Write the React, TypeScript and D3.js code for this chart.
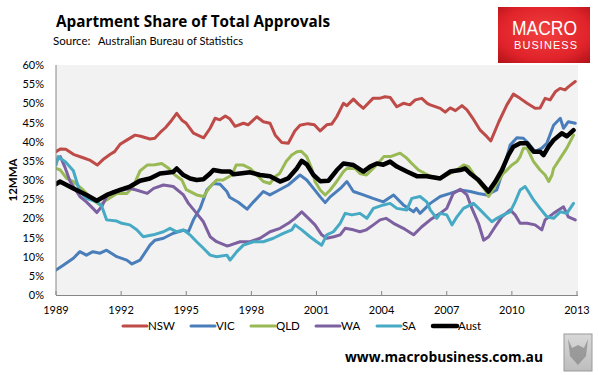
import React from "react";
import * as d3 from "d3";

type Pt = [number, number];

const seriesNames = ["NSW", "VIC", "QLD", "WA", "SA", "Aust"];
const seriesColors = ["#BE4B48", "#4A7EBB", "#98B954", "#7D60A0", "#46AAC5", "#000000"];
const seriesWidths = [3, 3, 3, 3, 3, 4.5];

const yTicks = [0, 5, 10, 15, 20, 25, 30, 35, 40, 45, 50, 55, 60];
const xTicks = [1989, 1992, 1995, 1998, 2001, 2004, 2007, 2010, 2013];

const nsw: Pt[] = [[1989.0,37.4],[1989.2,38.1],[1989.45,38.0],[1989.8,36.7],[1990.25,35.8],[1990.55,35.2],[1990.9,33.9],[1991.2,35.5],[1991.5,36.7],[1991.7,37.4],[1991.95,39.3],[1992.26,40.4],[1992.64,41.7],[1992.9,41.4],[1993.33,40.7],[1993.55,40.9],[1993.8,42.4],[1994.05,43.7],[1994.33,45.6],[1994.56,47.4],[1994.8,45.6],[1995.0,44.8],[1995.33,42.2],[1995.8,41.0],[1996.1,43.5],[1996.33,46.1],[1996.55,45.7],[1996.8,46.7],[1997.0,46.0],[1997.25,44.0],[1997.63,44.8],[1997.85,44.4],[1998.25,46.5],[1998.55,45.2],[1998.86,44.8],[1999.1,41.7],[1999.4,39.8],[1999.7,39.6],[2000.0,42.8],[2000.24,44.3],[2000.6,44.7],[2000.9,44.4],[2001.17,42.8],[2001.47,44.4],[2001.7,44.6],[2001.93,46.5],[2002.24,50.0],[2002.4,49.4],[2002.7,51.1],[2002.93,49.8],[2003.16,48.7],[2003.6,51.3],[2003.9,51.3],[2004.16,51.7],[2004.4,51.5],[2004.7,49.1],[2005.0,50.0],[2005.3,49.6],[2005.55,50.9],[2005.85,51.3],[2006.1,50.0],[2006.24,49.6],[2006.7,48.7],[2006.93,47.7],[2007.16,48.8],[2007.4,48.1],[2007.7,49.4],[2007.93,48.3],[2008.2,46.1],[2008.54,43.0],[2008.85,41.3],[2009.03,40.2],[2009.4,45.2],[2009.77,49.6],[2010.07,52.4],[2010.38,51.3],[2010.7,50.0],[2011.07,48.7],[2011.3,48.8],[2011.53,51.3],[2011.76,50.9],[2012.0,53.0],[2012.22,53.9],[2012.45,53.5],[2012.6,54.3],[2012.92,55.7]];

const vic: Pt[] = [[1989.0,6.5],[1989.35,7.8],[1989.8,9.6],[1990.1,11.3],[1990.4,10.4],[1990.7,11.3],[1991.03,10.9],[1991.33,11.7],[1991.8,10.0],[1992.26,9.1],[1992.5,8.1],[1992.87,9.1],[1993.33,13.0],[1993.56,14.3],[1993.95,14.8],[1994.4,16.1],[1994.87,16.9],[1995.1,16.5],[1995.33,19.6],[1995.64,22.6],[1995.95,27.4],[1996.25,29.1],[1996.56,28.9],[1996.87,27.0],[1997.0,25.5],[1997.4,24.2],[1997.8,22.4],[1998.1,24.3],[1998.55,27.0],[1998.85,26.1],[1999.15,27.0],[1999.7,28.7],[2000.24,31.3],[2000.55,30.0],[2000.86,27.8],[2001.17,25.6],[2001.4,24.1],[2001.63,25.6],[2002.1,27.8],[2002.4,29.6],[2002.7,27.0],[2003.16,26.1],[2003.6,25.2],[2004.08,24.3],[2004.55,26.1],[2005.0,23.5],[2005.47,21.7],[2005.6,22.6],[2005.77,21.3],[2006.24,23.9],[2006.7,25.7],[2007.16,26.5],[2007.62,27.4],[2008.08,27.0],[2008.46,26.5],[2008.85,26.1],[2009.3,27.4],[2009.6,32.6],[2009.92,39.1],[2010.23,41.0],[2010.53,40.9],[2010.76,39.6],[2011.07,37.4],[2011.38,38.3],[2011.61,39.6],[2011.92,44.3],[2012.23,46.1],[2012.38,43.5],[2012.6,45.2],[2012.92,44.8]];

const qld: Pt[] = [[1989.0,33.0],[1989.2,32.6],[1989.49,30.4],[1989.8,29.6],[1990.25,27.4],[1990.7,24.8],[1991.03,23.5],[1991.33,24.8],[1991.8,26.5],[1992.26,26.5],[1992.56,28.3],[1992.87,32.4],[1993.2,33.9],[1993.55,34.0],[1993.87,34.3],[1994.2,33.0],[1994.48,31.3],[1994.8,30.0],[1995.0,27.5],[1995.48,26.1],[1995.8,25.7],[1996.1,28.3],[1996.4,30.0],[1996.7,30.0],[1997.1,31.3],[1997.3,33.9],[1997.63,33.9],[1997.95,33.0],[1998.25,31.3],[1998.55,29.6],[1998.86,29.1],[1999.1,30.9],[1999.3,31.7],[1999.6,34.8],[1999.86,36.5],[2000.1,37.4],[2000.3,37.5],[2000.55,36.1],[2000.78,33.0],[2000.93,29.6],[2001.17,27.4],[2001.4,26.1],[2001.63,27.4],[2001.93,29.6],[2002.24,32.2],[2002.4,33.0],[2002.78,33.0],[2003.0,31.7],[2003.3,31.3],[2003.78,34.0],[2004.1,36.1],[2004.4,36.1],[2004.85,37.0],[2005.16,35.7],[2005.39,34.3],[2005.7,32.6],[2006.0,31.7],[2006.24,31.0],[2006.7,30.5],[2007.16,31.7],[2007.46,32.6],[2007.78,33.9],[2008.0,33.5],[2008.16,32.2],[2008.46,29.6],[2008.77,27.4],[2008.93,25.7],[2009.3,29.1],[2009.6,31.7],[2009.7,32.2],[2010.0,33.9],[2010.23,34.8],[2010.38,36.1],[2010.53,38.3],[2010.7,38.3],[2011.0,34.8],[2011.3,32.6],[2011.53,31.3],[2011.7,29.6],[2011.85,31.3],[2011.92,33.0],[2012.23,35.7],[2012.53,38.3],[2012.84,41.7]];

const wa: Pt[] = [[1989.0,34.8],[1989.2,36.1],[1989.4,33.5],[1989.65,29.6],[1989.95,27.0],[1990.1,25.7],[1990.4,24.3],[1990.7,22.6],[1990.88,21.5],[1991.1,23.0],[1991.33,25.7],[1991.64,27.0],[1992.1,27.4],[1992.4,27.8],[1992.7,27.4],[1993.2,26.5],[1993.5,27.8],[1993.95,28.7],[1994.4,28.3],[1994.87,26.1],[1995.1,23.9],[1995.48,21.3],[1995.79,19.1],[1996.1,15.2],[1996.4,13.9],[1996.87,12.8],[1997.02,13.0],[1997.48,13.9],[1997.94,13.9],[1998.4,14.8],[1998.86,16.5],[1999.32,17.4],[1999.7,18.7],[2000.0,20.0],[2000.32,21.7],[2000.63,20.0],[2000.93,18.3],[2001.24,15.7],[2001.47,14.8],[2001.8,15.2],[2002.09,15.7],[2002.32,17.4],[2002.7,17.0],[2003.0,16.5],[2003.3,17.0],[2003.62,18.3],[2003.93,19.6],[2004.2,20.0],[2004.55,18.7],[2005.0,17.4],[2005.47,15.7],[2005.85,17.8],[2006.24,19.6],[2006.7,21.3],[2007.0,22.6],[2007.3,26.5],[2007.62,27.6],[2007.93,26.1],[2008.16,22.6],[2008.46,18.7],[2008.7,14.3],[2008.93,15.2],[2009.23,17.8],[2009.54,20.4],[2009.92,22.2],[2010.15,20.9],[2010.38,18.7],[2010.7,18.7],[2011.07,18.3],[2011.38,17.0],[2011.53,19.6],[2011.92,21.3],[2012.38,23.0],[2012.6,20.4],[2012.92,19.6]];

const sa: Pt[] = [[1989.0,33.9],[1989.1,36.1],[1989.42,34.8],[1989.8,32.4],[1989.95,29.6],[1990.1,27.0],[1990.4,25.2],[1990.88,24.3],[1991.1,23.3],[1991.33,19.6],[1991.8,19.3],[1992.03,18.7],[1992.4,18.3],[1992.72,17.0],[1993.02,15.2],[1993.48,15.7],[1993.95,16.5],[1994.25,17.4],[1994.56,16.5],[1994.87,17.0],[1995.17,15.7],[1995.48,13.9],[1995.79,12.2],[1996.1,10.4],[1996.4,10.0],[1996.87,10.4],[1997.02,9.1],[1997.33,11.3],[1997.63,13.0],[1998.09,13.9],[1998.55,13.9],[1999.01,14.8],[1999.47,16.1],[1999.86,17.0],[2000.01,18.3],[2000.32,17.0],[2000.7,15.2],[2001.01,13.9],[2001.24,13.0],[2001.47,15.7],[2001.78,16.5],[2002.09,18.7],[2002.32,21.3],[2002.63,20.9],[2003.0,21.3],[2003.32,20.0],[2003.62,22.6],[2004.08,23.5],[2004.39,23.9],[2004.7,22.6],[2005.16,22.2],[2005.39,25.2],[2005.77,25.7],[2006.08,24.3],[2006.24,22.2],[2006.54,20.0],[2006.7,21.3],[2007.0,20.9],[2007.24,18.3],[2007.47,20.4],[2007.77,22.6],[2008.23,23.9],[2008.54,22.2],[2008.85,20.4],[2009.08,19.1],[2009.31,20.0],[2009.61,20.9],[2009.92,21.7],[2010.15,24.3],[2010.38,27.4],[2010.61,28.3],[2010.76,27.0],[2011.0,24.8],[2011.3,22.6],[2011.61,20.4],[2011.92,20.0],[2012.23,21.7],[2012.53,21.3],[2012.84,23.9]];

const aust: Pt[] = [[1989.0,28.9],[1989.18,29.6],[1989.8,27.8],[1990.41,26.1],[1990.88,24.6],[1991.34,26.1],[1991.95,27.4],[1992.41,28.3],[1992.87,29.8],[1993.33,30.4],[1993.79,31.7],[1994.4,32.1],[1994.56,33.0],[1994.87,31.3],[1995.18,30.4],[1995.48,30.0],[1995.79,30.2],[1996.1,31.7],[1996.25,32.6],[1996.64,32.2],[1997.02,32.2],[1997.17,31.5],[1997.48,31.7],[1997.94,32.0],[1998.4,31.3],[1998.86,31.0],[1999.32,29.6],[1999.69,30.4],[2000.09,33.0],[2000.32,35.0],[2000.55,34.1],[2000.86,31.3],[2001.17,29.7],[2001.55,29.8],[2001.94,32.6],[2002.24,34.3],[2002.7,33.9],[2003.16,32.2],[2003.47,33.5],[2003.78,34.3],[2004.08,34.0],[2004.39,34.8],[2004.7,33.5],[2005.16,32.2],[2005.62,31.0],[2006.08,31.0],[2006.7,30.4],[2007.16,32.2],[2007.62,32.6],[2007.85,33.0],[2008.08,31.7],[2008.46,30.0],[2008.92,27.0],[2009.23,29.5],[2009.54,32.6],[2009.84,36.5],[2010.07,38.7],[2010.38,39.6],[2010.69,39.6],[2011.0,37.4],[2011.3,37.4],[2011.46,36.5],[2011.69,38.7],[2011.92,40.4],[2012.3,42.2],[2012.53,41.4],[2012.84,43.0]];

const seriesData: Pt[][] = [nsw, vic, qld, wa, sa, aust];

const legendX = [123, 191, 251, 316, 377, 433];

const W = 599;
const H = 375;
const plot = { left: 56, right: 577, top: 65, bottom: 295 };

export default function App() {
  const x = d3.scaleLinear().domain([1989, 2013]).range([plot.left, plot.right]);
  const y = d3.scaleLinear().domain([0, 60]).range([plot.bottom, plot.top]);
  const line = d3
    .line<Pt>()
    .x((d) => x(d[0]))
    .y((d) => y(d[1]))
    .curve(d3.curveLinear);

  const font = "Lato, 'Open Sans', sans-serif";
  const legendY = 326;

  return (
    <svg
      width={W}
      height={H}
      viewBox={`0 0 ${W} ${H}`}
      style={{ position: "absolute", left: 0, top: 0, background: "#fff" }}
    >
      <defs>
        <radialGradient id="logoGrad" cx="50%" cy="45%" r="70%">
          <stop offset="0%" stopColor="#f2403f" />
          <stop offset="70%" stopColor="#e0232a" />
          <stop offset="100%" stopColor="#b8141b" />
        </radialGradient>
        <linearGradient id="wolfGrad" x1="0" y1="0" x2="0" y2="1">
          <stop offset="0%" stopColor="#d8d8d8" />
          <stop offset="100%" stopColor="#bdbdbd" />
        </linearGradient>
        <clipPath id="plotClip">
          <rect x={plot.left} y={plot.top - 5} width={plot.right - plot.left + 3} height={plot.bottom - plot.top + 5} />
        </clipPath>
      </defs>
      <rect width={W} height={H} fill="#fff" />

      {/* Title */}
      <text x={56} y={27} fontFamily="'Open Sans', sans-serif" fontWeight={700} fontSize={16.5} fill="#000" textLength={274} lengthAdjust="spacingAndGlyphs">
        Apartment Share of Total Approvals
      </text>
      <text x={53} y={45} fontFamily={font} fontSize={11.5} fill="#000">
        Source:
      </text>
      <text x={98} y={45} fontFamily={font} fontSize={11.5} fill="#000" textLength={145} lengthAdjust="spacingAndGlyphs">
        Australian Bureau of Statistics
      </text>

      {/* Logo */}
      <rect x={498} y={7} width={92} height={56} fill="url(#logoGrad)" />
      <text x={544.5} y={35} textAnchor="middle" fontFamily="'Liberation Sans', Arial, sans-serif" fontSize={20} fill="#fff" textLength={65} lengthAdjust="spacingAndGlyphs">
        MACRO
      </text>
      <text x={545.5} y={49} textAnchor="middle" fontFamily="'Liberation Sans', Arial, sans-serif" fontSize={11} fill="#fff" textLength={63} lengthAdjust="spacing">
        BUSINESS
      </text>

      {/* Plot background */}
      <rect x={plot.left} y={plot.top} width={plot.right - plot.left + 1} height={plot.bottom - plot.top} fill="#f2f2f2" />

      {/* Y axis labels */}
      {yTicks.map((t) => (
        <text key={t} x={44} y={y(t) + 4} textAnchor="end" fontFamily={font} fontSize={11} fill="#000">
          {t}%
        </text>
      ))}
      <text
        transform={`translate(17,${(plot.top + plot.bottom) / 2}) rotate(-90)`}
        textAnchor="middle"
        fontFamily={font}
        fontWeight={700}
        fontSize={11.5}
        fill="#000"
      >
        12MMA
      </text>

      {/* X axis ticks & labels */}
      {xTicks.map((t) => (
        <g key={t}>
          <line x1={x(t)} x2={x(t)} y1={plot.bottom} y2={plot.bottom - 4} stroke="#868686" strokeWidth={1} />
          <text x={x(t)} y={314} textAnchor="middle" fontFamily={font} fontSize={11} fill="#000">
            {t}
          </text>
        </g>
      ))}

      {/* Series */}
      <g clipPath="url(#plotClip)">
        {seriesData.map((d, i) => (
          <path
            key={seriesNames[i]}
            d={line(d) || ""}
            fill="none"
            stroke={seriesColors[i]}
            strokeWidth={seriesWidths[i]}
            strokeLinejoin="round"
            strokeLinecap="round"
          />
        ))}
      </g>

      {/* Axes lines */}
      <line x1={plot.left} x2={plot.left} y1={plot.top} y2={plot.bottom} stroke="#868686" strokeWidth={1} />
      <line x1={plot.left} x2={plot.right + 1} y1={plot.bottom + 0.5} y2={plot.bottom + 0.5} stroke="#868686" strokeWidth={1} />

      {/* Legend */}
      {seriesNames.map((n, i) => (
        <g key={n}>
          <line
            x1={legendX[i]}
            x2={legendX[i] + 24}
            y1={legendY}
            y2={legendY}
            stroke={seriesColors[i]}
            strokeWidth={seriesWidths[i]}
            strokeLinecap="round"
          />
          <text x={legendX[i] + 25} y={legendY + 4} fontFamily={font} fontSize={11.5} fill="#000">
            {n}
          </text>
        </g>
      ))}

      {/* URL */}
      <text x={345} y={362} fontFamily="'Open Sans', sans-serif" fontWeight={700} fontSize={14.5} fill="#000" textLength={198} lengthAdjust="spacingAndGlyphs">
        www.macrobusiness.com.au
      </text>

      {/* Wolf placeholder image */}
      <rect x={564} y={334} width={28} height={37} fill="url(#wolfGrad)" stroke="#9a9a9a" strokeWidth={1} />
      <path d="M568,339 L572,348 L578,345 L584,348 L588,339 L586,356 L578,365 L570,356 Z" fill="#7a7a7a" opacity={0.6} />
    </svg>
  );
}
